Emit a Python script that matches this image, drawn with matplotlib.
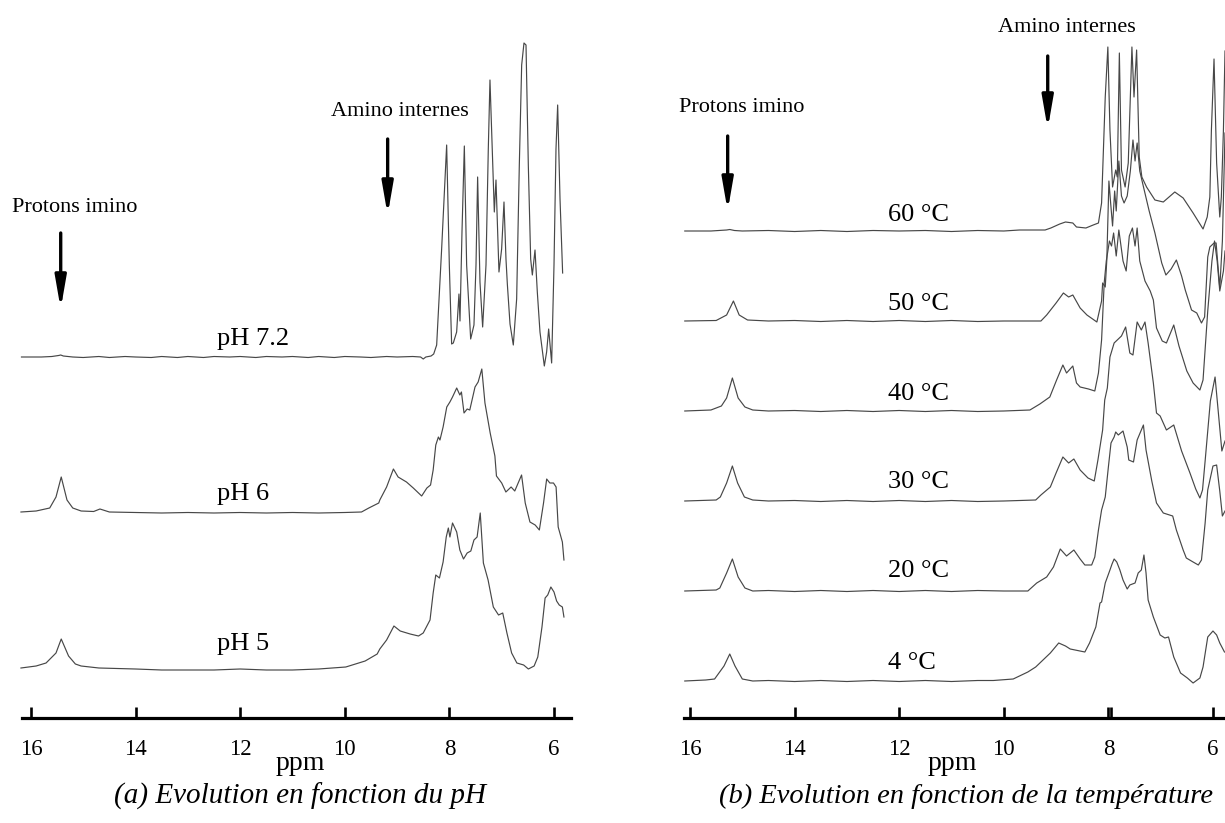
import matplotlib
matplotlib.use("Agg")
import matplotlib.pyplot as plt

plt.rcParams['font.family'] = ['Liberation Serif', 'DejaVu Serif']

# ---------------- DATA (chemical shift in ppm, intensity in arbitrary units) -------------
# Panel (a): pH series
ph72_ppm = [16.18, 15.8, 15.6, 15.47, 15.43, 15.38, 15.2, 15.0, 14.7, 14.5, 14.2, 14.0, 13.7, 13.5,
            13.2, 13.0, 12.7, 12.5, 12.2, 12.0, 11.7, 11.5, 11.2, 11.0, 10.7, 10.5, 10.2, 10.0, 9.7,
            9.5, 9.2, 9.0, 8.7, 8.55, 8.5, 8.45, 8.35, 8.30, 8.243, 8.148, 8.052, 8.001, 7.957, 7.925,
            7.861, 7.817, 7.797, 7.759, 7.714, 7.670, 7.593, 7.530, 7.491, 7.460, 7.415, 7.364,
            7.300, 7.256, 7.224, 7.185, 7.141, 7.109, 7.077, 7.052, 7.001, 6.956, 6.918, 6.892,
            6.841, 6.778, 6.714, 6.663, 6.618, 6.574, 6.535, 6.491, 6.446, 6.414, 6.363, 6.319,
            6.268, 6.185, 6.141, 6.102, 6.045, 6.000, 5.962, 5.930, 5.885, 5.835]
ph72_int = [0, 0, 0.5, 1.5, 2, 1, 0, -0.5, 0.5, -0.5, 0.5, 0, -0.5, 0.5,
            -0.5, 0.5, -0.5, 0.5, 0, 0.5, -0.5, 0.5, 0, 0.5, -0.5, 0.5, -0.5, 0.5, 0,
            -0.5, 0.5, 0, 0.5, 0, -2, 0, 1, 3, 12, 108, 212, 92, 13, 14,
            25, 63, 36, 125, 211, 92, 18, 32, 92, 180, 75, 30,
            92, 208, 277, 215, 145, 177, 125, 85, 108, 155, 98, 73,
            33, 12, 58, 192, 292, 314, 312, 192, 98, 82, 107, 65,
            25, -9, 5, 28, -6, 92, 208, 252, 158, 84]

ph6_ppm = [16.19, 15.9, 15.64, 15.52, 15.42, 15.31, 15.2, 15.04, 14.8, 14.68, 14.5, 14.0, 13.5, 13.0,
           12.5, 12.0, 11.5, 11.0, 10.5, 10.0, 9.68, 9.54, 9.35, 9.33, 9.20, 9.07, 8.98, 8.82, 8.69,
           8.53, 8.43, 8.36, 8.31, 8.26, 8.21, 8.18, 8.12, 8.05, 7.99, 7.94, 7.86, 7.80, 7.77, 7.72,
           7.66, 7.61, 7.51, 7.45, 7.38, 7.32, 7.22, 7.13, 7.10, 7.00, 6.92, 6.82, 6.75, 6.62, 6.55,
           6.46, 6.36, 6.28, 6.20, 6.14, 6.08, 6.01, 5.96, 5.92, 5.84, 5.81]
ph6_int = [0, 1, 4, 15, 35, 12, 4, 1, 0.5, 3, 0, -0.5, -1, -0.5,
           -1, -0.5, -1, -0.5, -1, -0.5, 0, 4, 9, 12, 25, 43, 35, 30, 24,
           16, 24, 27, 42, 67, 75, 72, 85, 105, 110, 115, 124, 117, 120, 99,
           103, 102, 125, 130, 143, 109, 79, 56, 36, 29, 20, 25, 21, 37, 9,
           -10, -13, -18, 9, 33, 29, 29, 25, -15, -30, -48]

ph5_ppm = [16.19, 15.9, 15.71, 15.52, 15.42, 15.28, 15.15, 15.04, 14.7, 14.0, 13.5, 13.0, 12.5, 12.0,
           11.5, 11.0, 10.5, 9.98, 9.61, 9.38, 9.33, 9.20, 9.06, 8.94, 8.75, 8.59, 8.50, 8.37, 8.31,
           8.26, 8.19, 8.12, 8.06, 8.02, 7.99, 7.94, 7.86, 7.80, 7.73, 7.66, 7.59, 7.53, 7.47, 7.41,
           7.35, 7.26, 7.16, 7.06, 6.98, 6.90, 6.81, 6.71, 6.58, 6.49, 6.38, 6.31, 6.23, 6.17, 6.12,
           6.06, 6.00, 5.95, 5.90, 5.84, 5.81]
ph5_int = [0, 2, 5, 15, 29, 12, 4, 2, 0, -1, -2, -2, -2, -1,
           -2, -2, -1, 1, 7, 14, 19, 28, 42, 37, 34, 32, 35, 48, 75,
           93, 90, 106, 131, 140, 131, 145, 136, 118, 109, 115, 117, 128, 131, 155,
           105, 88, 61, 53, 55, 35, 15, 5, 3, -1, 2, 11, 41, 70, 73,
           81, 76, 67, 63, 61, 51]

# Panel (b): temperature series
t60_ppm = [16.1, 15.6, 15.3, 15.24, 15.15, 15.0, 14.5, 14.0, 13.5, 13.0, 12.5, 12.0, 11.5, 11.0, 10.5,
           10.0, 9.7, 9.21, 9.1, 8.93, 8.82, 8.68, 8.61, 8.43, 8.29, 8.19, 8.13, 8.06, 8.01, 7.97,
           7.92, 7.86, 7.83, 7.79, 7.75, 7.68, 7.62, 7.55, 7.51, 7.46, 7.41, 7.36, 7.27, 7.11, 6.95,
           6.73, 6.57, 6.38, 6.19, 6.11, 6.06, 6.03, 5.98, 5.93, 5.87, 5.84, 5.80, 5.77]
t60_int = [0, 0, 1, 1.5, 0.5, 0, 0.5, -0.5, 0.5, -0.5, 0.5, 0, 0.5, -0.5, 0.5,
           0, 1, 1, 3, 7, 9, 8, 4, 3, 6, 8, 28, 134, 184, 101,
           44, 61, 54, 178, 61, 44, 68, 184, 134, 181, 74, 54, 44, 31, 29,
           39, 33, 18, 2, 14, 34, 101, 172, 68, 14, 34, 101, 180]

t50_ppm = [16.1, 15.5, 15.3, 15.17, 15.06, 14.9, 14.5, 14.0, 13.5, 13.0, 12.5, 12.0, 11.5, 11.0, 10.5,
           10.0, 9.69, 9.29, 9.18, 9.0, 8.86, 8.76, 8.68, 8.54, 8.41, 8.22, 8.13, 8.11, 8.06, 8.03,
           7.99, 7.96, 7.92, 7.88, 7.85, 7.80, 7.75, 7.70, 7.64, 7.58, 7.53, 7.49, 7.45, 7.40, 7.36,
           7.22, 7.11, 6.98, 6.90, 6.80, 6.70, 6.60, 6.53, 6.41, 6.31, 6.22, 6.16, 6.10, 6.06, 5.98,
           5.94, 5.87, 5.82, 5.77]
t50_int = [0, 0.5, 6, 20, 6, 1, 0, 0.5, -0.5, 0.5, -0.5, 0.5, -0.5, 0.5, -0.5,
           0, 0, 0, 6, 18, 28, 24, 26, 13, 6, -1, 20, 38, 34, 61,
           140, 120, 95, 130, 110, 160, 125, 118, 125, 150, 181, 160, 178, 150, 141,
           110, 88, 58, 46, 52, 61, 45, 31, 11, 8, -2, 4, 64, 74, 78,
           78, 33, 80, 188]

t40_ppm = [16.1, 15.6, 15.4, 15.3, 15.19, 15.08, 14.95, 14.8, 14.5, 14.0, 13.5, 13.0, 12.5, 12.0, 11.5,
           11.0, 10.5, 10.0, 9.5, 9.31, 9.12, 8.99, 8.87, 8.80, 8.68, 8.61, 8.54, 8.38, 8.26, 8.19,
           8.13, 8.08, 8.04, 7.98, 7.94, 7.90, 7.85, 7.80, 7.72, 7.66, 7.60, 7.54, 7.49, 7.45, 7.40,
           7.30, 7.20, 7.14, 7.08, 6.97, 6.89, 6.75, 6.65, 6.50, 6.38, 6.25, 6.19, 6.10, 6.02, 5.97,
           5.92, 5.87, 5.80, 5.77]
t40_int = [0, 1, 5, 13, 33, 13, 4, 1, 0, 0.5, -0.5, 0.5, -0.5, 0.5, -0.5,
           0.5, -0.5, 0, 1, 7, 14, 31, 46, 38, 45, 28, 24, 22, 20, 38,
           71, 128, 150, 170, 165, 178, 155, 181, 150, 140, 175, 183, 165, 183, 150,
           130, 120, 111, 83, 70, 68, 86, 65, 40, 28, 21, 31, 100, 150, 170,
           150, 120, 140, 160]

t30_ppm = [16.1, 15.5, 15.42, 15.30, 15.19, 15.09, 14.96, 14.8, 14.5, 14.0, 13.5, 13.0, 12.5, 12.0,
           11.5, 11.0, 10.5, 10.0, 9.39, 9.29, 9.11, 9.00, 8.87, 8.76, 8.66, 8.54, 8.39, 8.27, 8.20,
           8.11, 8.07, 8.02, 7.97, 7.89, 7.83, 7.75, 7.67, 7.59, 7.53, 7.45, 7.37, 7.30, 7.24, 7.14,
           7.08, 7.01, 6.89, 6.75, 6.60, 6.44, 6.33, 6.25, 6.20, 6.15, 6.05, 5.96, 5.90, 5.83, 5.77]
t30_int = [0, 1, 4, 18, 35, 18, 4, 1, 0, 0.5, -0.5, 0.5, -0.5, 0.5,
           -0.5, 0.5, -0.5, 0, 1, 6, 14, 28, 44, 38, 42, 31, 23, 20, 41,
           71, 101, 113, 144, 158, 161, 165, 174, 148, 146, 179, 171, 179, 158, 118,
           88, 85, 71, 76, 50, 28, 12, 3, 11, 40, 100, 124, 90, 50, 60]

t20_ppm = [16.1, 15.5, 15.43, 15.30, 15.19, 15.08, 14.95, 14.8, 14.5, 14.0, 13.5, 13.0, 12.5, 12.0,
           11.5, 11.0, 10.5, 10.0, 9.54, 9.37, 9.18, 9.05, 8.92, 8.80, 8.66, 8.54, 8.45, 8.32, 8.26,
           8.19, 8.13, 8.06, 8.00, 7.95, 7.89, 7.86, 7.81, 7.72, 7.64, 7.61, 7.52, 7.45, 7.33, 7.28,
           7.17, 7.08, 6.95, 6.77, 6.70, 6.57, 6.51, 6.38, 6.28, 6.22, 6.15, 6.10, 6.00, 5.93, 5.87,
           5.82, 5.77]
t20_int = [0, 1, 3, 18, 32, 14, 3, 0, 0.5, -0.5, 0.5, -0.5, 0.5, -0.5,
           0.5, -0.5, 0.5, 0, 0, 8, 14, 24, 42, 35, 41, 32, 26, 26, 34,
           61, 81, 94, 124, 148, 154, 159, 156, 160, 144, 131, 129, 151, 166, 141,
           110, 88, 78, 75, 61, 41, 33, 29, 26, 31, 68, 101, 125, 126, 100,
           75, 80]

t4_ppm = [16.1, 15.7, 15.53, 15.35, 15.24, 15.14, 15.0, 14.8, 14.5, 14.0, 13.5, 13.0, 12.5, 12.0,
          11.5, 11.0, 10.5, 10.2, 9.82, 9.54, 9.39, 9.25, 9.11, 8.95, 8.82, 8.73, 8.45, 8.36, 8.24,
          8.16, 8.13, 8.06, 7.97, 7.93, 7.89, 7.84, 7.78, 7.72, 7.64, 7.59, 7.49, 7.43, 7.37, 7.32,
          7.28, 7.24, 7.14, 7.01, 6.92, 6.85, 6.75, 6.62, 6.49, 6.38, 6.25, 6.19, 6.10, 6.00, 5.93,
          5.87, 5.78]
t4_int = [0, 1, 2, 15, 27, 15, 2, 0, 0.5, -0.5, 0.5, -0.5, 0.5, -0.5,
          0.5, -0.5, 0.5, 0.5, 2, 9, 14, 21, 28, 38, 35, 32, 29, 38, 54,
          78, 79, 98, 111, 117, 122, 119, 111, 101, 92, 96, 98, 108, 111, 126,
          108, 81, 64, 46, 43, 44, 24, 8, 3, -2, 3, 14, 44, 50, 46,
          38, 29]

ph_labels = ["pH 7.2", "pH 6", "pH 5"]
temp_labels = ["60 °C", "50 °C", "40 °C", "30 °C", "20 °C", "4 °C"]
tick_values = [16, 14, 12, 10, 8, 6]

# ---------------- LAYOUT -----------------------------------------------------------------
W, H = 1225, 823
AX_Y = 718                      # pixel row of the ppm axis line
fig = plt.figure(figsize=(W / 100, H / 100), dpi=100)
fig.patch.set_facecolor('white')


def make_axes(x0, x1, ppm_left, ppm_right):
    ax = fig.add_axes([x0 / W, (H - AX_Y) / H, (x1 - x0) / W, AX_Y / H])
    ax.set_xlim(ppm_left, ppm_right)
    ax.set_ylim(0, AX_Y)
    ax.patch.set_alpha(0)
    for s in ('top', 'left', 'right'):
        ax.spines[s].set_visible(False)
    ax.spines['bottom'].set_linewidth(2.3)
    ax.set_yticks([])
    ax.set_xticks(tick_values)
    ax.set_xticklabels([str(v) for v in tick_values])
    ax.tick_params(axis='x', direction='in', length=8, width=1.9, pad=15,
                   labelsize=16.5)
    return ax


def Y(px):
    return AX_Y - px


line_kw = dict(color='#474747', lw=0.85, solid_joinstyle='round')

# Panel (a)
axa = make_axes(22, 571, 16.17, 5.675)
ph_series = [(ph72_ppm, ph72_int), (ph6_ppm, ph6_int), (ph5_ppm, ph5_int)]
ph_base = [357, 512, 668]
ph_text_y = [345, 500, 650]
for (p, v), b, lab, ty in zip(ph_series, ph_base, ph_labels, ph_text_y):
    axa.plot(p, [Y(b) + i for i in v], clip_on=False, **line_kw)
    axa.text(12.44, Y(ty), lab, fontsize=19, ha='left', va='baseline')

# Panel (b)
axb = make_axes(684, 1225, 16.115, 5.77)
axb.set_xticks([7.945], minor=True)
axb.tick_params(axis='x', which='minor', direction='in', length=8, width=1.9)
t_series = [(t60_ppm, t60_int), (t50_ppm, t50_int), (t40_ppm, t40_int),
            (t30_ppm, t30_int), (t20_ppm, t20_int), (t4_ppm, t4_int)]
t_base = [231, 321, 411, 501, 591, 681]
t_text_y = [221, 310, 400, 488, 577, 669]
for (p, v), b, lab, ty in zip(t_series, t_base, temp_labels, t_text_y):
    axb.plot(p, [Y(b) + i for i in v], clip_on=False, **line_kw)
    axb.text(12.21, Y(ty), lab, fontsize=19, ha='left', va='baseline')

# annotations (text + arrows)
arrow_kw = dict(arrowstyle='-|>,head_length=1.9,head_width=0.33', lw=2.4, color='black',
                shrinkA=0, shrinkB=0)
for ax, tx, ty, ax_x, ay0, ay1 in [(axa, 15.16, 208, 15.43, 233, 309),
                                     (axb, 15.02, 108, 15.28, 136, 211)]:
    ax.text(tx, Y(ty), "Protons imino", fontsize=16, ha='center', va='center')
    ax.annotate('', xy=(ax_x, Y(ay1)), xytext=(ax_x, Y(ay0)), arrowprops=arrow_kw,
                annotation_clip=False)
for ax, tx, ty, ax_x, ay0, ay1 in [(axa, 8.94, 112, 9.18, 139, 215),
                                     (axb, 8.79, 27, 9.16, 56, 129)]:
    ax.text(tx, Y(ty), "Amino internes", fontsize=16, ha='center', va='center')
    ax.annotate('', xy=(ax_x, Y(ay1)), xytext=(ax_x, Y(ay0)), arrowprops=arrow_kw,
                annotation_clip=False)

# axis titles and captions
fig.text(300 / W, 1 - 763 / H, "ppm", fontsize=20, ha='center', va='center')
fig.text(952 / W, 1 - 763 / H, "ppm", fontsize=20, ha='center', va='center')
fig.text(300 / W, 1 - 796 / H, "(a) Evolution en fonction du pH", fontsize=21,
         style='italic', ha='center', va='center')
fig.text(966 / W, 1 - 796 / H, "(b) Evolution en fonction de la température", fontsize=20.5,
         style='italic', ha='center', va='center')

fig.savefig("out.png", dpi=100, facecolor='white')
